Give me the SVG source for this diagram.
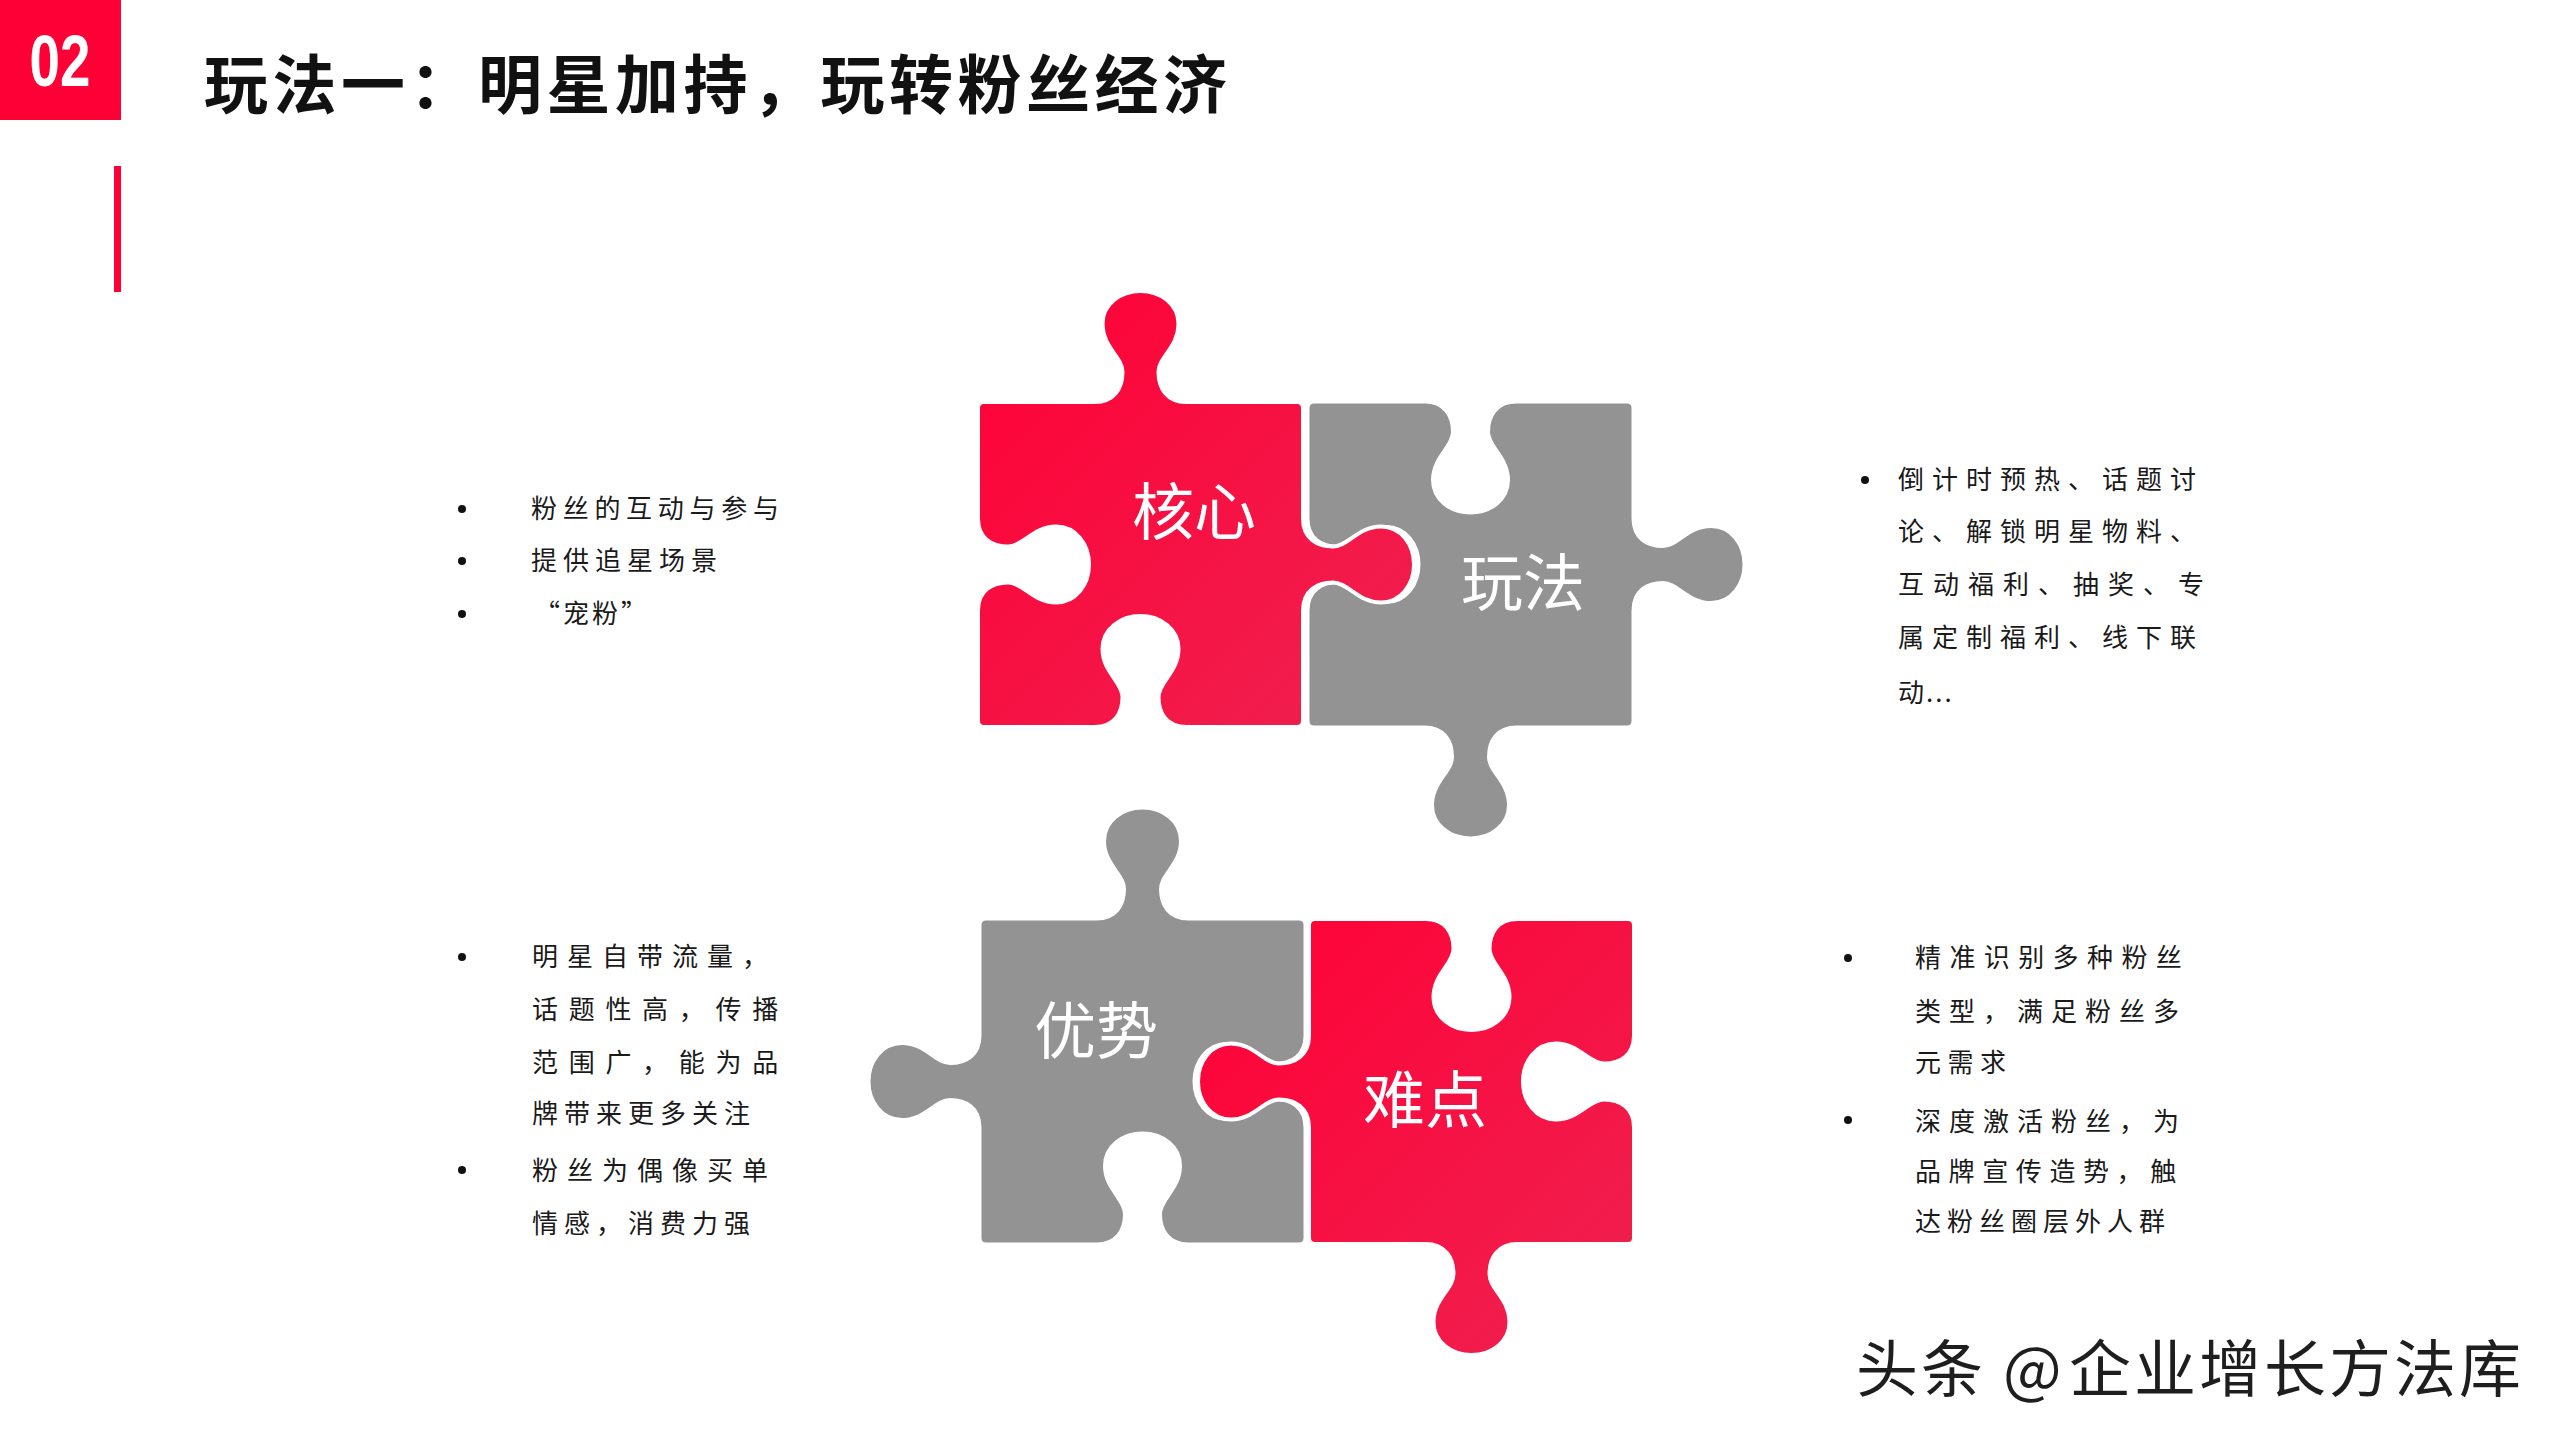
<svg xmlns="http://www.w3.org/2000/svg" width="2560" height="1440" viewBox="0 0 2560 1440">
  <defs>
    <linearGradient id="redGrad" x1="0" y1="0" x2="1" y2="1">
      <stop offset="0" stop-color="#FF0036"/>
      <stop offset="1" stop-color="#EE2250"/>
    </linearGradient>
    <style>
      .red { fill: url(#redGrad); stroke: #ffffff; stroke-width: 4; }
      .gray { fill: #939393; stroke: #ffffff; stroke-width: 3; }
      .label { font-family: "Noto Sans CJK SC", sans-serif; font-size: 62px; fill: #ffffff; text-anchor: middle; }
      .body { font-family: "Noto Sans CJK SC", sans-serif; font-size: 26px; fill: #1a1a1a; }
      .dot { fill: #111111; }
    </style>
  </defs>
  <rect x="0" y="0" width="2560" height="1440" fill="#ffffff"/>

  <g id="header">
    <rect x="0" y="0" width="121" height="120" fill="#FF0036"/>
    <text transform="translate(60,86) scale(0.76,1)" text-anchor="middle" font-family="Liberation Sans, Arial, sans-serif" font-weight="700" font-size="72" fill="#ffffff">02</text>
    <rect x="114" y="166" width="7" height="126" fill="#FF0036"/>
  </g>

  <g id="title">
    <text x="204" y="108" font-family="Noto Sans CJK SC, sans-serif" font-weight="700" font-size="64" letter-spacing="4.5" fill="#111111">玩法一：明星加持，玩转粉丝经济</text>
  </g>

  <g id="piece-play" transform="translate(1308,402)">
    <path class="gray" d="M 6 0 L 116.5 0 C 136.5 0 144.5 14 144.5 30 C 144.5 45 124.5 55 124.5 78 C 124.5 98 142.5 111 162.5 111 C 182.5 111 200.5 98 200.5 78 C 200.5 55 180.5 45 180.5 30 C 180.5 14 188.5 0 208.5 0 L 319 0 Q 325 0 325 6 L 325 116.5 C 325 136.5 339 144.5 355 144.5 C 370 144.5 380 124.5 403 124.5 C 423 124.5 436 142.5 436 162.5 C 436 182.5 423 200.5 403 200.5 C 380 200.5 370 180.5 355 180.5 C 339 180.5 325 188.5 325 208.5 L 325 319 Q 325 325 319 325 L 208.5 325 C 188.5 325 180.5 339 180.5 355 C 180.5 370 200.5 380 200.5 403 C 200.5 423 182.5 436 162.5 436 C 142.5 436 124.5 423 124.5 403 C 124.5 380 144.5 370 144.5 355 C 144.5 339 136.5 325 116.5 325 L 6 325 Q 0 325 0 319 L 0 208.5 C 0 188.5 14 180.5 30 180.5 C 45 180.5 55 200.5 78 200.5 C 98 200.5 111 182.5 111 162.5 C 111 142.5 98 124.5 78 124.5 C 55 124.5 45 144.5 30 144.5 C 14 144.5 0 136.5 0 116.5 L 0 6 Q 0 0 6 0 Z"/>
    <text class="label" x="215" y="204">玩法</text>
  </g>

  <g id="piece-core" transform="translate(978,402)">
    <path class="red" d="M 6 0 L 116.5 0 C 136.5 0 144.5 -14 144.5 -30 C 144.5 -45 124.5 -55 124.5 -78 C 124.5 -98 142.5 -111 162.5 -111 C 182.5 -111 200.5 -98 200.5 -78 C 200.5 -55 180.5 -45 180.5 -30 C 180.5 -14 188.5 0 208.5 0 L 319 0 Q 325 0 325 6 L 325 116.5 C 325 136.5 339 144.5 355 144.5 C 370 144.5 380 124.5 403 124.5 C 423 124.5 436 142.5 436 162.5 C 436 182.5 423 200.5 403 200.5 C 380 200.5 370 180.5 355 180.5 C 339 180.5 325 188.5 325 208.5 L 325 319 Q 325 325 319 325 L 208.5 325 C 188.5 325 180.5 311 180.5 295 C 180.5 280 200.5 270 200.5 247 C 200.5 227 182.5 214 162.5 214 C 142.5 214 124.5 227 124.5 247 C 124.5 270 144.5 280 144.5 295 C 144.5 311 136.5 325 116.5 325 L 6 325 Q 0 325 0 319 L 0 208.5 C 0 188.5 14 180.5 30 180.5 C 45 180.5 55 200.5 78 200.5 C 98 200.5 111 182.5 111 162.5 C 111 142.5 98 124.5 78 124.5 C 55 124.5 45 144.5 30 144.5 C 14 144.5 0 136.5 0 116.5 L 0 6 Q 0 0 6 0 Z"/>
    <text class="label" x="216" y="133">核心</text>
  </g>

  <g id="piece-adv" transform="translate(980,919)">
    <path class="gray" d="M 6 0 L 116.5 0 C 136.5 0 144.5 -14 144.5 -30 C 144.5 -45 124.5 -55 124.5 -78 C 124.5 -98 142.5 -111 162.5 -111 C 182.5 -111 200.5 -98 200.5 -78 C 200.5 -55 180.5 -45 180.5 -30 C 180.5 -14 188.5 0 208.5 0 L 319 0 Q 325 0 325 6 L 325 116.5 C 325 136.5 311 144.5 295 144.5 C 280 144.5 270 124.5 247 124.5 C 227 124.5 214 142.5 214 162.5 C 214 182.5 227 200.5 247 200.5 C 270 200.5 280 180.5 295 180.5 C 311 180.5 325 188.5 325 208.5 L 325 319 Q 325 325 319 325 L 208.5 325 C 188.5 325 180.5 311 180.5 295 C 180.5 280 200.5 270 200.5 247 C 200.5 227 182.5 214 162.5 214 C 142.5 214 124.5 227 124.5 247 C 124.5 270 144.5 280 144.5 295 C 144.5 311 136.5 325 116.5 325 L 6 325 Q 0 325 0 319 L 0 208.5 C 0 188.5 -14 180.5 -30 180.5 C -45 180.5 -55 200.5 -78 200.5 C -98 200.5 -111 182.5 -111 162.5 C -111 142.5 -98 124.5 -78 124.5 C -55 124.5 -45 144.5 -30 144.5 C -14 144.5 0 136.5 0 116.5 L 0 6 Q 0 0 6 0 Z"/>
    <text class="label" x="116" y="135">优势</text>
  </g>

  <g id="piece-diff" transform="translate(1309,919)">
    <path class="red" d="M 6 0 L 116.5 0 C 136.5 0 144.5 14 144.5 30 C 144.5 45 124.5 55 124.5 78 C 124.5 98 142.5 111 162.5 111 C 182.5 111 200.5 98 200.5 78 C 200.5 55 180.5 45 180.5 30 C 180.5 14 188.5 0 208.5 0 L 319 0 Q 325 0 325 6 L 325 116.5 C 325 136.5 311 144.5 295 144.5 C 280 144.5 270 124.5 247 124.5 C 227 124.5 214 142.5 214 162.5 C 214 182.5 227 200.5 247 200.5 C 270 200.5 280 180.5 295 180.5 C 311 180.5 325 188.5 325 208.5 L 325 319 Q 325 325 319 325 L 208.5 325 C 188.5 325 180.5 339 180.5 355 C 180.5 370 200.5 380 200.5 403 C 200.5 423 182.5 436 162.5 436 C 142.5 436 124.5 423 124.5 403 C 124.5 380 144.5 370 144.5 355 C 144.5 339 136.5 325 116.5 325 L 6 325 Q 0 325 0 319 L 0 208.5 C 0 188.5 -14 180.5 -30 180.5 C -45 180.5 -55 200.5 -78 200.5 C -98 200.5 -111 182.5 -111 162.5 C -111 142.5 -98 124.5 -78 124.5 C -55 124.5 -45 144.5 -30 144.5 C -14 144.5 0 136.5 0 116.5 L 0 6 Q 0 0 6 0 Z"/>
    <text class="label" x="116" y="204">难点</text>
  </g>

  <g id="text-core">
    <circle class="dot" cx="462" cy="509" r="4"/>
    <circle class="dot" cx="462" cy="561" r="4"/>
    <circle class="dot" cx="462" cy="614" r="4"/>
    <text class="body" x="531" y="518" letter-spacing="5.7">粉丝的互动与参与</text>
    <text class="body" x="531" y="570" letter-spacing="6">提供追星场景</text>
    <text class="body" x="534" y="623" letter-spacing="3">“宠粉”</text>
  </g>

  <g id="text-play">
    <circle class="dot" cx="1865" cy="480" r="4"/>
    <text class="body" x="1898" y="489" letter-spacing="8">倒计时预热、话题讨</text>
    <text class="body" x="1898" y="541" letter-spacing="8">论、解锁明星物料、</text>
    <text class="body" x="1898" y="594" letter-spacing="9">互动福利、抽奖、专</text>
    <text class="body" x="1898" y="647" letter-spacing="8">属定制福利、线下联</text>
    <text class="body" x="1898" y="702" letter-spacing="2">动...</text>
  </g>

  <g id="text-adv">
    <circle class="dot" cx="462" cy="957" r="4"/>
    <circle class="dot" cx="462" cy="1170" r="4"/>
    <text class="body" x="532" y="966" letter-spacing="9">明星自带流量，</text>
    <text class="body" x="532" y="1019" letter-spacing="10.7">话题性高，传播</text>
    <text class="body" x="532" y="1072" letter-spacing="10.7">范围广，能为品</text>
    <text class="body" x="532" y="1123" letter-spacing="6">牌带来更多关注</text>
    <text class="body" x="532" y="1180" letter-spacing="9">粉丝为偶像买单</text>
    <text class="body" x="532" y="1233" letter-spacing="6">情感，消费力强</text>
  </g>

  <g id="text-diff">
    <circle class="dot" cx="1848" cy="958" r="4"/>
    <circle class="dot" cx="1848" cy="1120" r="4"/>
    <text class="body" x="1915" y="967" letter-spacing="8.4">精准识别多种粉丝</text>
    <text class="body" x="1915" y="1021" letter-spacing="8">类型，满足粉丝多</text>
    <text class="body" x="1915" y="1072" letter-spacing="6.5">元需求</text>
    <text class="body" x="1915" y="1131" letter-spacing="8">深度激活粉丝，为</text>
    <text class="body" x="1915" y="1181" letter-spacing="7.6">品牌宣传造势，触</text>
    <text class="body" x="1915" y="1231" letter-spacing="6">达粉丝圈层外人群</text>
  </g>

  <g id="watermark">
    <text y="1392" font-family="Noto Sans CJK SC, sans-serif" font-size="62" fill="#1e1e1e" letter-spacing="3"><tspan x="1856">头条</tspan><tspan x="2003">@</tspan><tspan x="2069">企业增长方法库</tspan></text>
  </g>
</svg>
